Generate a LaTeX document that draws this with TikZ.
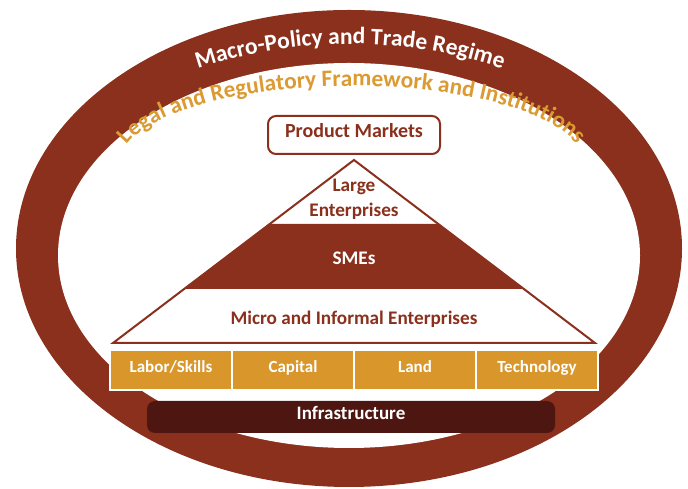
\documentclass[tikz,border=0pt]{standalone}
\usepackage{fontspec}
\setmainfont{Carlito}
\usetikzlibrary{decorations.text}
\definecolor{rust}{HTML}{8A301C}
\definecolor{amber}{HTML}{D9962B}
\definecolor{ochre}{HTML}{DB9A32}
\definecolor{darkrust}{HTML}{4E1610}
\newcommand\macrofmt{\bfseries\fontsize{23.5}{23.5}\selectfont\color{white}}
\newcommand\legalfmt{\bfseries\fontsize{23.3}{23.3}\selectfont\color{ochre}}
\begin{document}
\begin{tikzpicture}[x=1pt,y=1pt,
  lbl/.style={font=\bfseries\fontsize{19.2}{25}\selectfont, inner sep=0pt},
  factor/.style={fill=amber, draw=white, line width=2pt, minimum width=122pt,
    minimum height=40pt, inner sep=0pt, text=white,
    font=\bfseries\fontsize{17}{20}\selectfont, text height=0.68em, text depth=0.2em},
  marketbox/.style={draw=rust, line width=2pt, fill=white, rounded corners=8pt,
    minimum width=172pt, minimum height=38pt, inner sep=0pt, text=rust,
    font=\bfseries\fontsize{20}{22}\selectfont, text height=0.68em, text depth=0.2em},
  basebar/.style={fill=darkrust, rounded corners=8pt, minimum width=408pt,
    minimum height=32pt, inner sep=0pt, text=white,
    font=\bfseries\fontsize{19}{22}\selectfont, text height=0.68em, text depth=0.2em}]
\useasboundingbox (0,0) rectangle (688,489);

% outer policy ring
\fill[rust] (349,240.5) ellipse [x radius=333, y radius=238.5];
\fill[white] (349,233.5) ellipse [x radius=291, y radius=192.5];

% curved titles
\coordinate (mc) at (350,-35);
\coordinate (lc) at (352,325);
\path[decorate, decoration={text along path, text align=center,
    text={|\macrofmt|Macro-Policy and Trade Regime}}]
  ([shift={(125:480)}]mc) arc[start angle=125, end angle=55, radius=480];
\path[decorate, decoration={text along path, text align=center,
    text={|\legalfmt|Legal and Regulatory Framework and Institutions}}]
  ([shift={(179.5:232 and 78)}]lc) arc[start angle=179.5, end angle=0.5, x radius=232, y radius=78];

% pyramid of enterprises
\coordinate (apex) at (354,329);
\coordinate (bl) at (113,146);
\coordinate (br) at (595,146);
\fill[rust] (184.1,200) -- (523.9,200) -- (438.3,265) -- (269.7,265) -- cycle;
\draw[rust, line width=2pt] (bl) -- (apex) -- (br) -- cycle;

\node[lbl, text=rust, align=center] (large) at (354,289.5) {Large\\Enterprises};
\node[lbl, text=white] (sme) at (354,231) {SMEs};
\node[lbl, text=rust] (micro) at (354,170) {Micro and Informal Enterprises};

% product markets
\node[marketbox] (pm) at (354,354) {Product Markets};

% factor markets
\node[factor] (labor) at (171,119) {Labor/Skills};
\node[factor] (capital) at (293,119) {Capital};
\node[factor] (land) at (415,119) {Land};
\node[factor] (tech) at (537,119) {Technology};

% infrastructure
\node[basebar] (infra) at (351,72) {Infrastructure};
\end{tikzpicture}
\end{document}
